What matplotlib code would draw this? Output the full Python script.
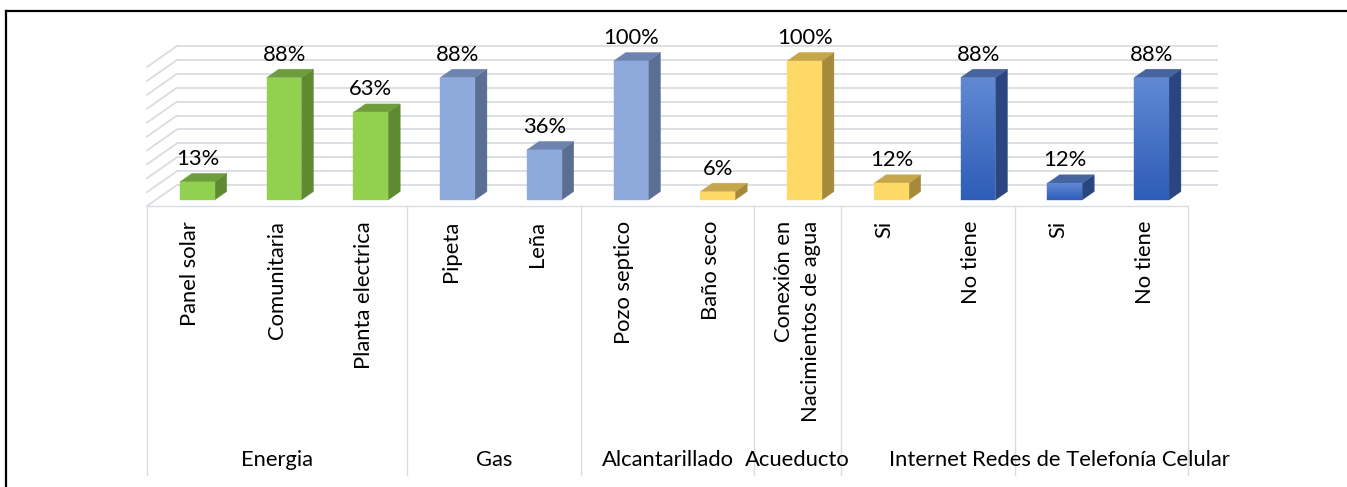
import matplotlib
matplotlib.use("Agg")
import matplotlib.pyplot as plt
from matplotlib.patches import Polygon
from matplotlib.lines import Line2D
from matplotlib.colors import LinearSegmentedColormap
import numpy as np

# datos
groups = ["Energia", "Gas", "Alcantarillado", "Acueducto", "Internet",
          "Redes de Telefonía Celular"]
group_sizes = [3, 2, 2, 1, 2, 2]
categories = ["Panel solar", "Comunitaria", "Planta electrica", "Pipeta", "Leña",
              "Pozo septico", "Baño seco", "Conexión en\nNacimientos de agua",
              "Si", "No tiene", "Si", "No tiene"]
values = [13, 88, 63, 88, 36, 100, 6, 100, 12, 88, 12, 88]
bar_styles = ["green", "green", "green", "lblue", "lblue", "lblue",
              "yellow", "yellow", "yellow", "blue", "blue", "blue"]

# colores (frente, lado, techo)
COLORS = {
    "green": ("#92D050", "#5F8A32", "#6E9E3C"),
    "lblue": ("#8EA9DB", "#5B6E94", "#6E84B0"),
    "yellow": ("#FFD966", "#A58A3C", "#C5A64B"),
    "blue": ("#4472C4", "#2A4580", "#46649F"),
}
GRID = "#D9DCE1"
FONT = "Lato"
FS = 15.8

W, H = 1347, 487
PX_X = 86.75      # px por categoria
PX_Y = 1.39       # px por %
ORIG_X, ORIG_Y = 147, 206   # esquina frontal izquierda del piso (px desde arriba)

# profundidad del piso (vector oblicuo) en unidades de datos
DX, DY = 30 / PX_X, 21 / PX_Y
BAR_D0, BAR_D1 = 0.29, 0.69
BAR_LEFT, BAR_W = 0.28, 0.40

fig = plt.figure(figsize=(W / 100, H / 100), dpi=100)
ax = fig.add_axes([0, 0, 1, 1])
xlim = (-ORIG_X / PX_X, (W - ORIG_X) / PX_X)
ylim = (-(H - ORIG_Y) / PX_Y, ORIG_Y / PX_Y)
ax.axis("off")

n = len(values)

# pared trasera y lateral
for g in range(0, 101, 10):
    ax.plot([DX, n + DX], [g + DY, g + DY], color=GRID, lw=1.3, zorder=1,
            solid_capstyle="butt")
    ax.plot([0, DX], [g, g + DY], color=GRID, lw=1.3, zorder=1)

# tabla del eje
ax.plot([0, n], [0, 0], color=GRID, lw=1.0, zorder=1)
bounds = np.concatenate([[0], np.cumsum(group_sizes)])
for b in bounds:
    ax.plot([b, b], [0, -(475 - ORIG_Y) / PX_Y], color=GRID, lw=1.0, zorder=1)

grad = np.linspace(0, 1, 64).reshape(-1, 1)
blue_cmap = LinearSegmentedColormap.from_list("b", ["#2E5DB8", "#6189D3"])

for i, (v, st) in enumerate(zip(values, bar_styles)):
    front, side, top = COLORS[st]
    x0 = i + BAR_LEFT + BAR_D0 * DX
    x1 = x0 + BAR_W
    y0 = BAR_D0 * DY
    y1 = y0 + v
    ddx = (BAR_D1 - BAR_D0) * DX
    ddy = (BAR_D1 - BAR_D0) * DY
    # lado
    ax.add_patch(Polygon([(x1, y0), (x1 + ddx, y0 + ddy), (x1 + ddx, y1 + ddy), (x1, y1)],
                         closed=True, facecolor=side, edgecolor=side, lw=0.3, zorder=3))
    # techo
    ax.add_patch(Polygon([(x0, y1), (x1, y1), (x1 + ddx, y1 + ddy), (x0 + ddx, y1 + ddy)],
                         closed=True, facecolor=top, edgecolor=top, lw=0.3, zorder=3))
    # frente
    fp = Polygon([(x0, y0), (x1, y0), (x1, y1), (x0, y1)], closed=True,
                 facecolor=front, edgecolor=front, lw=0.3, zorder=4)
    ax.add_patch(fp)
    if st == "blue":
        im = ax.imshow(grad, extent=[x0, x1, y0, y1], origin="lower", aspect="auto",
                       cmap=blue_cmap, zorder=4.5, interpolation="bilinear")
        im.set_clip_path(fp)
    # etiqueta de valor
    ax.text((x0 + x1) / 2, y1 + 17 / PX_Y, f"{v}%", ha="center", va="baseline",
            fontsize=FS, family=FONT, color="black", zorder=6)

# etiquetas de categoria
for i, c in enumerate(categories):
    ax.text(i + 0.5, -15 / PX_Y, c, rotation=90, ha="center", va="top",
            multialignment="right", linespacing=1.45,
            fontsize=FS, family=FONT, color="black")

# etiquetas de grupo
for k, gname in enumerate(groups):
    cx = (bounds[k] + bounds[k + 1]) / 2
    ax.text(cx, -(460 - ORIG_Y) / PX_Y, gname, ha="center", va="center",
            fontsize=FS, family=FONT, color="black")

ax.set_xlim(*xlim)
ax.set_ylim(*ylim)

# borde
fig.add_artist(Line2D([6 / W, 1], [1 - 10.5 / H] * 2, transform=fig.transFigure,
                      color="black", lw=1.6))
fig.add_artist(Line2D([6.5 / W] * 2, [0, 1 - 10.5 / H], transform=fig.transFigure,
                      color="black", lw=1.6))

fig.savefig("out.png", dpi=100, facecolor="white")
